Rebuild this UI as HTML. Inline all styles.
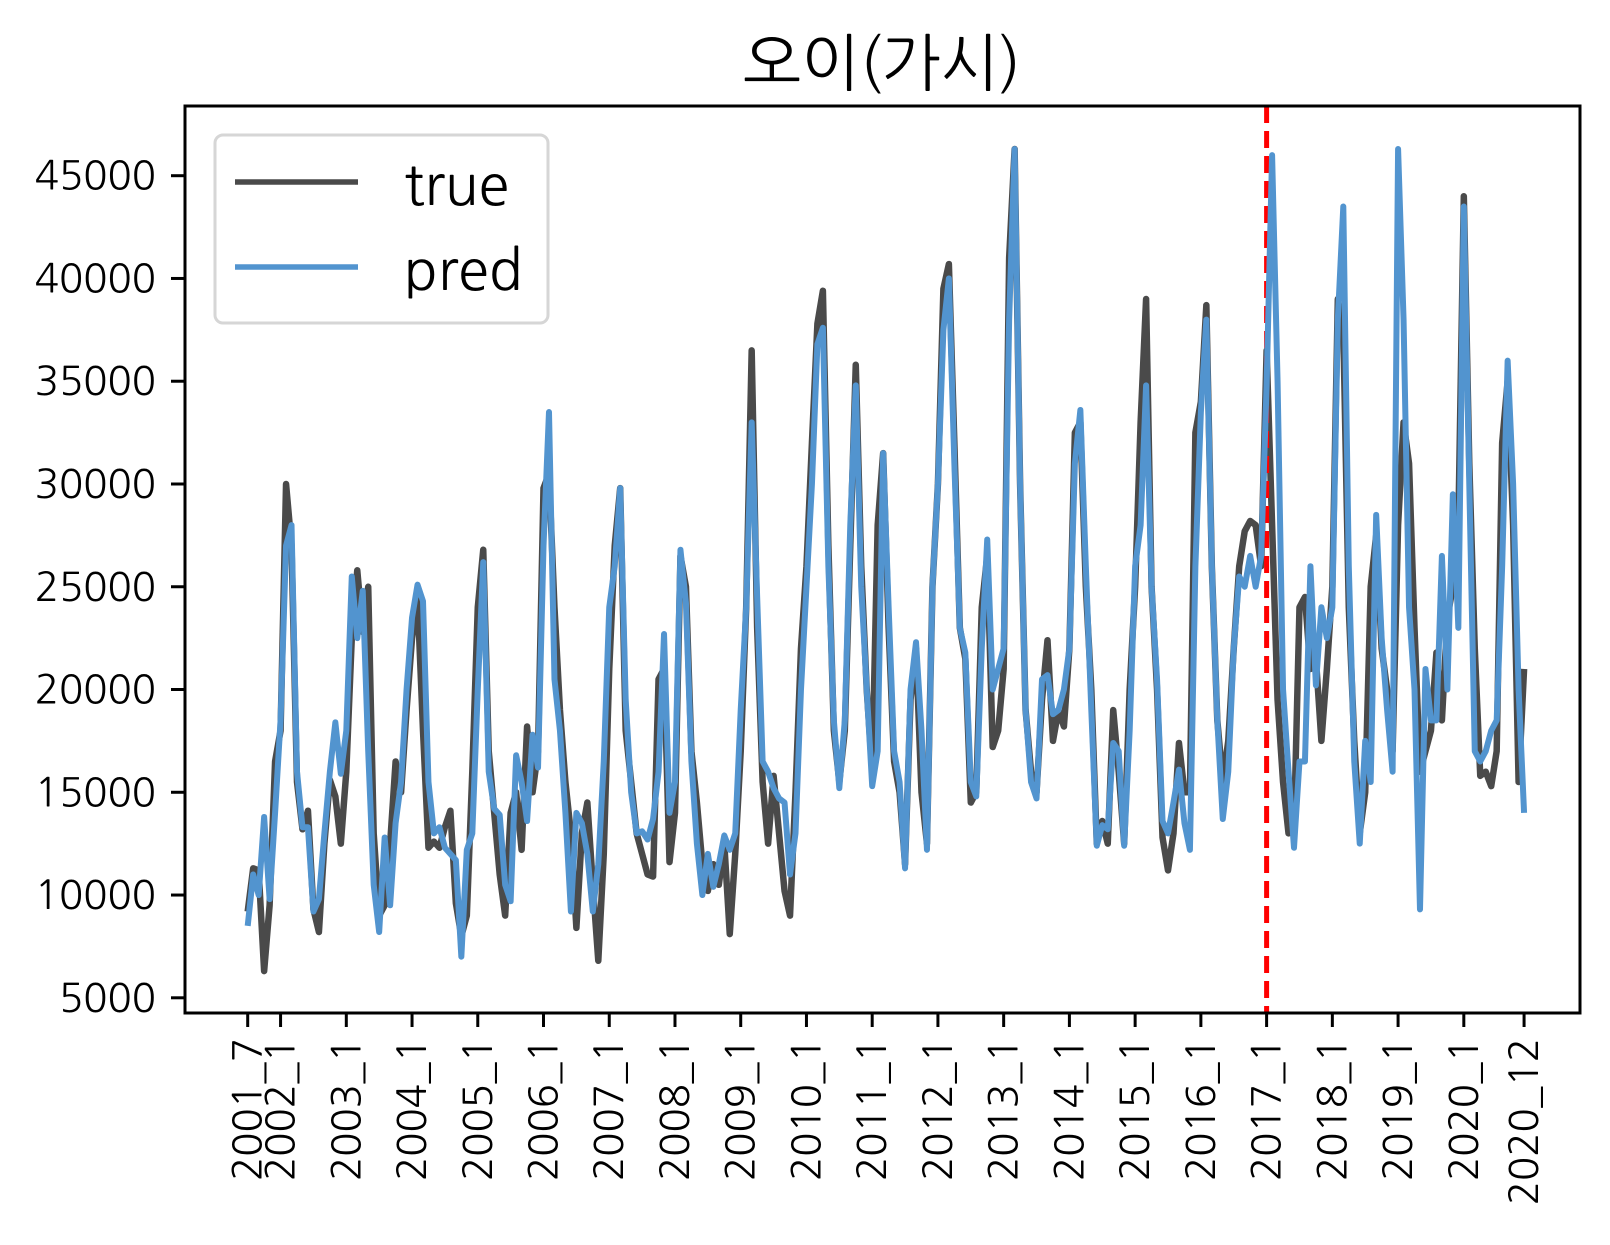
<!DOCTYPE html>
<html><head><meta charset="utf-8"><style>
html,body{margin:0;padding:0;background:#fff;}
svg{display:block;font-family:"Liberation Sans","NanumGothic",sans-serif;}
</style></head><body>
<svg id="chart" width="1610" height="1245" viewBox="0 0 1610 1245" xmlns="http://www.w3.org/2000/svg">
<rect x="0" y="0" width="1610" height="1245" fill="#fff"/>
<text x="882" y="85" text-anchor="middle" font-size="62" font-family="NanumGothic, 'Noto Sans CJK KR', sans-serif">오이(가시)</text>
<g id="plot"></g>
<g id="xaxis"></g>
<g id="yaxis"></g>
<rect x="185" y="106" width="1395" height="907" fill="none" stroke="#000" stroke-width="3"/>
<g>
<rect x="215" y="135" width="333" height="188" rx="8" fill="#fff" fill-opacity="0.85" stroke="#d6d6d6" stroke-width="3"/>
<line x1="235" y1="182" x2="358" y2="182" stroke="#4a4a4a" stroke-width="5.5"/>
<text x="404" y="205" font-size="56" font-family="NanumGothic, sans-serif">true</text>
<line x1="235" y1="267" x2="358" y2="267" stroke="#5294cf" stroke-width="5.5"/>
<text x="404" y="290" font-size="56" font-family="NanumGothic, sans-serif">pred</text>
</g>
</svg>
<script>
const trueVals = [
9200,11300,11200,6300,9500,16500,
18000,30000,27000,15500,13200,14100,9300,8200,12500,15600,14800,12500,
16000,22500,25800,22800,25000,13000,9000,9500,12500,16500,15000,19000,
22500,24500,18000,12300,12600,12300,13300,14100,9600,8000,9000,16000,
24000,26800,17000,14000,11000,9000,14000,15000,12200,18200,15000,17000,
29800,30500,24000,19000,15500,13000,8400,13000,14500,10500,6800,12000,
21000,27000,29800,18000,15500,13000,12000,11000,10900,20500,21000,11600,
14000,26500,25000,17000,14500,11500,10200,11500,10500,12500,8100,12000,
17000,24000,36500,23000,15500,12500,15800,13000,10200,9000,15000,22000,
26000,32000,37800,39400,27000,18000,15500,18000,27000,35800,26000,20000,
16000,28000,31500,23000,16500,15000,11500,19500,22000,15000,12500,25000,
30000,39500,40700,32000,23000,21500,14500,15000,24000,26500,17200,18000,
21000,41000,46300,30000,19000,16000,15000,19500,22400,17500,19000,18200,
22000,32500,33000,25000,20000,12500,13600,12500,19000,16000,12500,20000,
25000,33000,39000,25000,20000,12800,11200,13000,17400,15000,15000,32500,
34000,38700,26000,18500,15500,17500,22000,26000,27700,28200,28000,26000,
36500,28000,19500,15500,13000,13200,24000,24500,21000,21500,17500,21000,
25000,39000,37500,24000,17500,13000,15000,25000,27500,22000,20000,17000,
28000,33000,31000,23000,16000,17000,18000,21800,18500,23500,25000,28000,
44000,31000,22000,15800,16000,15300,17000,32000,35000,28000,15500,21000
];
const predVals = [
8500,11000,10000,13800,9800,14000,
18500,27000,28000,16000,13300,13300,9200,9800,13000,16000,18400,15900,
18000,25500,22500,24800,17000,10500,8200,12800,9500,13500,15500,20000,
23500,25100,24300,15500,13000,13300,12300,12000,11700,7000,12200,13000,
20000,26200,16000,14200,13900,10500,9700,16800,15500,13600,17800,16200,
27000,33500,20500,18000,14000,9200,14000,13500,12000,9200,11500,16500,
24000,26000,29800,19500,15000,13000,13100,12700,13700,16000,22700,14000,
15500,26800,24200,16500,12500,10000,12000,10400,11500,12900,12200,13000,
19000,24000,33000,24500,16500,16000,15200,14700,14500,11000,13000,20000,
25000,30000,36800,37600,26000,18500,15200,18500,28000,34800,25000,20000,
15300,17000,31500,24000,17000,15500,11300,20000,22300,18000,12200,25000,
30000,37500,40000,31000,23000,21800,15500,14800,22000,27300,20000,21000,
22000,38000,46300,30000,19000,15500,14700,20500,20700,18800,19000,20000,
22000,31000,33600,26000,19000,12400,13400,13200,17400,17000,12400,18000,
26000,28000,34800,25000,20500,13600,13000,14500,16100,13500,12200,26000,
33500,38000,26000,18500,13700,16000,22000,25500,25000,26500,25000,26500,
34800,46000,35000,20000,16000,12300,16500,16500,26000,20200,24000,22500,
24000,38000,43500,26000,16500,12500,17500,15500,28500,22500,19000,16000,
46300,38000,24000,20000,9300,21000,18500,18500,26500,20000,29500,23000,
43500,30000,17000,16500,17000,18000,18500,26000,36000,30000,20000,14000
];
const yTicks = [5000,10000,15000,20000,25000,30000,35000,40000,45000];
const xTickLabels = ["2001_7","2002_1","2003_1","2004_1","2005_1","2006_1","2007_1","2008_1","2009_1","2010_1","2011_1","2012_1","2013_1","2014_1","2015_1","2016_1","2017_1","2018_1","2019_1","2020_1","2020_12"];
const xTickIndex = [0,6,18,30,42,54,66,78,90,102,114,126,138,150,162,174,186,198,210,222,233];
const splitIndex = 186;

const NS = "http://www.w3.org/2000/svg";
function xs(i){ return 247.7 + i*5.478; }
function ys(v){ return 997.8 - (v-5000)*0.0205525; }
function mk(tag, attrs){ const e=document.createElementNS(NS,tag); for(const k in attrs) e.setAttribute(k,attrs[k]); return e; }

const plot=document.getElementById('plot');
const xaxis=document.getElementById('xaxis');
const yaxis=document.getElementById('yaxis');

function pathFor(arr){ return arr.map((v,i)=>(i?'L':'M')+xs(i).toFixed(2)+' '+ys(v).toFixed(2)).join(' '); }

const tl=mk('path',{d:pathFor(trueVals),fill:'none',stroke:'#4a4a4a','stroke-width':6.5,'stroke-linejoin':'round'});


plot.appendChild(tl);

const rl=mk('line',{x1:xs(splitIndex),x2:xs(splitIndex),y1:106,y2:1013,stroke:'#ff0000','stroke-width':5,'stroke-dasharray':'17 8'});


plot.appendChild(rl);

const pl=mk('path',{d:pathFor(predVals),fill:'none',stroke:'#5294cf','stroke-width':6,'stroke-linejoin':'round'});


plot.appendChild(pl);

yTicks.forEach(v=>{
  const y=ys(v);
  const t=mk('line',{x1:171,x2:185,y1:y,y2:y,stroke:'#000','stroke-width':3});
  
  
  yaxis.appendChild(t);
  const lb=mk('text',{x:156,y:y+14,'text-anchor':'end','font-size':40,'font-family':'NanumGothic, "Liberation Sans", sans-serif'});
  
  
  lb.textContent=String(v);
  yaxis.appendChild(lb);
});

xTickLabels.forEach((s,k)=>{
  const x=xs(xTickIndex[k]);
  const t=mk('line',{x1:x,x2:x,y1:1013,y2:1027,stroke:'#000','stroke-width':3});
  
  
  xaxis.appendChild(t);
  const lb=mk('text',{x:0,y:0,'text-anchor':'end','font-size':40,'font-family':'NanumGothic, "Liberation Sans", sans-serif',transform:'translate('+(x+14)+',1038) rotate(-90)'});
  
  
  lb.textContent=s;
  xaxis.appendChild(lb);
});
</script>
</body></html>
